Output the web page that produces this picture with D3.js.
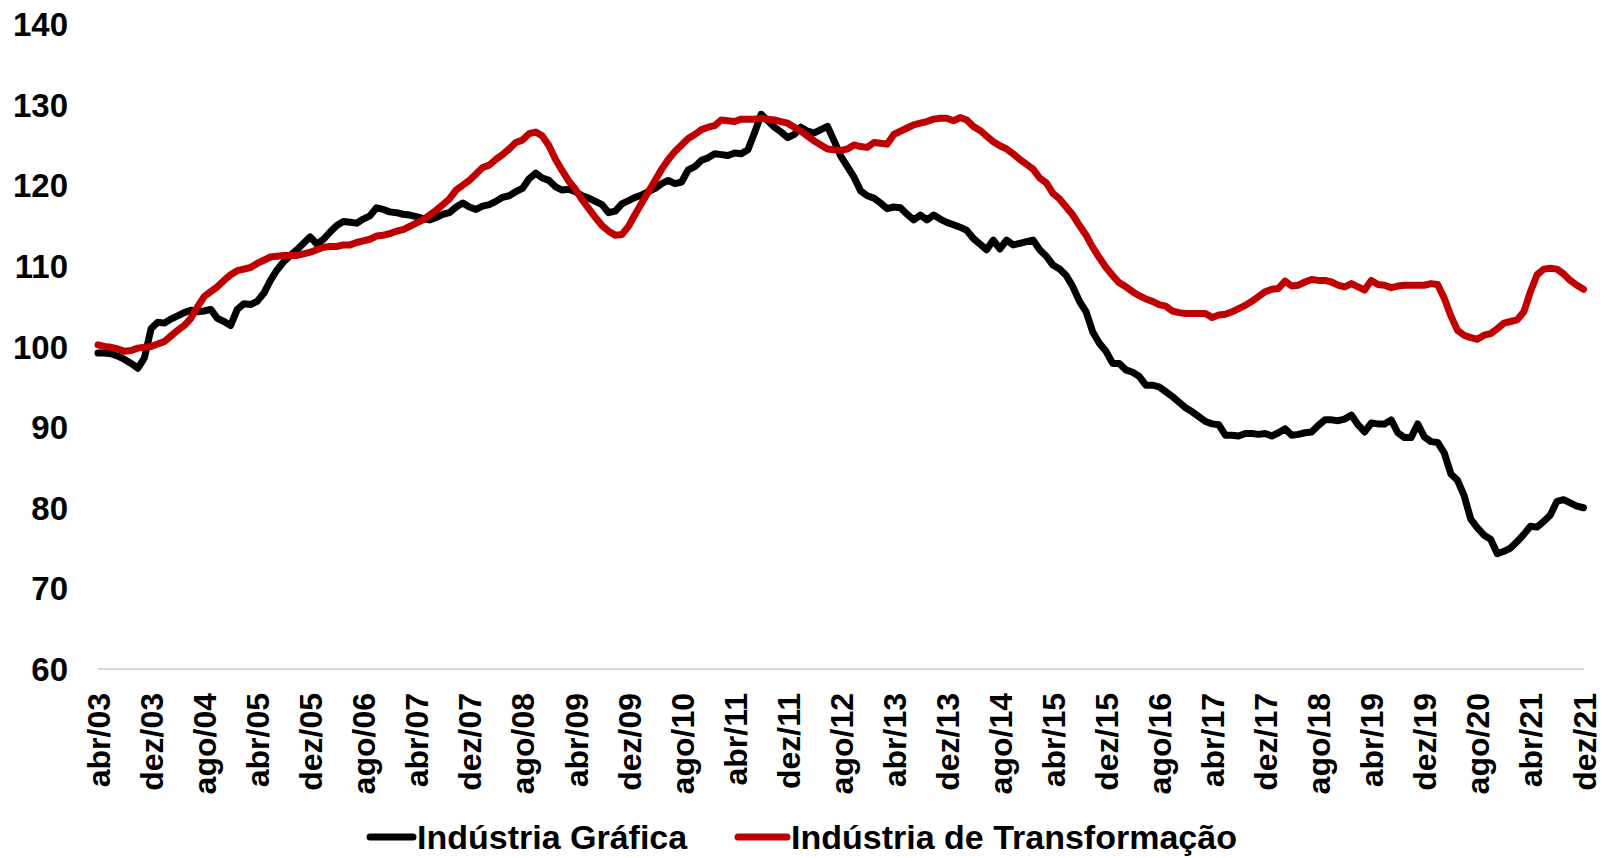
<!DOCTYPE html>
<html>
<head>
<meta charset="utf-8">
<script src="https://cdn.jsdelivr.net/npm/d3@7/dist/d3.min.js"></script>
<style>
  html, body { margin: 0; padding: 0; background: #fff; }
  svg { display: block; font-family: "Liberation Sans", Arial, sans-serif; }
</style>
</head>
<body>
<svg id="chart" width="1605" height="858"></svg>
<script>
// ---- DATA ----
const monthNames = ["jan","fev","mar","abr","mai","jun","jul","ago","set","out","nov","dez"];
const startYear = 2003, startMonthIdx = 3; // abr/03
const nMonths = 225; // abr/03 .. dez/21

const tickLabels = ["abr/03","dez/03","ago/04","abr/05","dez/05","ago/06","abr/07","dez/07","ago/08",
  "abr/09","dez/09","ago/10","abr/11","dez/11","ago/12","abr/13","dez/13","ago/14","abr/15","dez/15",
  "ago/16","abr/17","dez/17","ago/18","abr/19","dez/19","ago/20","abr/21","dez/21"];

const yTicks = [60, 70, 80, 90, 100, 110, 120, 130, 140];

const seriesNames = ["Indústria Gráfica", "Indústria de Transformação"];

const graficaValues = [
  99.2, 99.2, 99.1, 98.8, 98.4, 97.9, 97.3, 98.6, 102.2, 103.0, 102.9, 103.4,
  103.8, 104.2, 104.5, 104.3, 104.4, 104.6, 103.5, 103.1, 102.6, 104.6, 105.3, 105.2,
  105.6, 106.6, 108.2, 109.5, 110.5, 111.3, 112.0, 112.8, 113.6, 112.7, 113.3, 114.2,
  115.0, 115.5, 115.4, 115.3, 115.8, 116.2, 117.2, 117.0, 116.7, 116.6, 116.4, 116.3,
  116.1, 115.9, 115.7, 116.0, 116.4, 116.6, 117.3, 117.8, 117.3, 117.0, 117.4, 117.6,
  118.0, 118.5, 118.7, 119.2, 119.6, 120.8, 121.5, 120.9, 120.6, 119.8, 119.4, 119.5,
  119.2, 118.7, 118.4, 118.0, 117.6, 116.6, 116.8, 117.7, 118.1, 118.5, 118.8, 119.2,
  119.6, 120.2, 120.6, 120.2, 120.4, 121.9, 122.3, 123.1, 123.4, 123.9, 123.8, 123.7,
  124.0, 123.9, 124.4, 126.5, 128.8, 128.0, 127.2, 126.6, 125.9, 126.3, 127.2, 126.7,
  126.5, 126.9, 127.3, 125.5, 123.6, 122.3, 121.0, 119.3, 118.7, 118.4, 117.8, 117.1,
  117.3, 117.2, 116.4, 115.7, 116.3, 115.7, 116.3, 115.8, 115.4, 115.1, 114.8, 114.4,
  113.4, 112.7, 112.0, 113.2, 112.1, 113.2, 112.6, 112.8, 113.0, 113.2, 112.0, 111.2,
  110.1, 109.6, 108.8, 107.4, 105.6, 104.3, 101.8, 100.4, 99.4, 97.9, 97.9, 97.1,
  96.8, 96.3, 95.2, 95.2, 95.0, 94.4, 93.8, 93.1, 92.4, 91.9, 91.3, 90.7,
  90.4, 90.3, 89.0, 89.0, 88.9, 89.2, 89.2, 89.1, 89.2, 88.9, 89.3, 89.8,
  89.0, 89.1, 89.3, 89.4, 90.2, 90.9, 90.9, 90.8, 91.0, 91.5, 90.3, 89.4,
  90.5, 90.4, 90.4, 90.9, 89.3, 88.7, 88.7, 90.4, 88.8, 88.2, 88.1, 86.8,
  84.2, 83.4, 81.5, 78.6, 77.5, 76.6, 76.1, 74.3, 74.6, 75.0, 75.8, 76.7,
  77.7, 77.6, 78.3, 79.1, 80.8, 81.0, 80.6, 80.2, 80.0
];

const transformacaoValues = [
  100.2, 100.0, 99.9, 99.7, 99.4, 99.5, 99.8, 99.9, 100.0, 100.3, 100.6, 101.3,
  102.0, 102.6, 103.5, 104.9, 106.2, 106.8, 107.4, 108.2, 108.9, 109.4, 109.6, 109.8,
  110.3, 110.7, 111.1, 111.2, 111.3, 111.3, 111.3, 111.5, 111.7, 112.0, 112.3, 112.4,
  112.4, 112.6, 112.6, 112.9, 113.1, 113.3, 113.7, 113.8, 114.0, 114.3, 114.5, 114.9,
  115.3, 115.7, 116.3, 116.9, 117.6, 118.3, 119.4, 120.0, 120.6, 121.4, 122.2, 122.5,
  123.2, 123.8, 124.5, 125.3, 125.6, 126.4, 126.6, 126.1, 124.9, 123.2, 121.8, 120.5,
  119.5, 118.2, 117.1, 116.0, 115.0, 114.3, 113.8, 113.9, 114.9, 116.4, 117.8, 119.2,
  120.6, 122.0, 123.2, 124.2, 125.0, 125.8, 126.3, 126.9, 127.2, 127.4, 128.1, 128.0,
  127.9, 128.2, 128.2, 128.2, 128.3, 128.2, 128.1, 127.9, 127.7, 127.2, 126.7, 126.1,
  125.5, 125.0, 124.5, 124.4, 124.3, 124.5, 125.0, 124.8, 124.7, 125.3, 125.2, 125.1,
  126.3, 126.7, 127.1, 127.5, 127.7, 127.9, 128.2, 128.3, 128.3, 128.0, 128.4, 128.1,
  127.3, 126.8, 126.1, 125.4, 124.9, 124.5, 123.9, 123.2, 122.6, 122.0, 120.9, 120.3,
  119.0, 118.3, 117.3, 116.3, 115.0, 113.8, 112.3, 111.0, 109.8, 108.8, 107.9, 107.4,
  106.8, 106.3, 105.9, 105.6, 105.2, 105.0, 104.4, 104.2, 104.1, 104.1, 104.1, 104.1,
  103.6, 103.9, 104.0, 104.3, 104.7, 105.1, 105.6, 106.2, 106.8, 107.1, 107.2, 108.1,
  107.5, 107.6, 108.0, 108.3, 108.2, 108.2, 108.0, 107.6, 107.4, 107.8, 107.4, 107.0,
  108.2, 107.7, 107.6, 107.3, 107.5, 107.6, 107.6, 107.6, 107.6, 107.8, 107.7, 106.0,
  103.8, 102.0, 101.4, 101.1, 100.9, 101.4, 101.6, 102.2, 102.9, 103.1, 103.3, 104.3,
  106.8, 108.9, 109.6, 109.7, 109.6, 109.0, 108.2, 107.6, 107.1
];

const seriesColors = ["#000000", "#C00000"];

// ---- BUILD ----
const categories = d3.range(nMonths).map(k => {
  const m = (startMonthIdx + k) % 12;
  const y = startYear + Math.floor((startMonthIdx + k) / 12);
  return monthNames[m] + "/" + String(y % 100).padStart(2, "0");
});

const svg = d3.select("#chart");
const x = d3.scalePoint().domain(categories).range([98, 1583.5]).padding(0);
const y = d3.scaleLinear().domain([60, 140]).range([669, 24]);

// baseline gridline at 60
svg.append("line")
  .attr("x1", 98).attr("x2", 1584)
  .attr("y1", y(60)).attr("y2", y(60))
  .attr("stroke", "#d9d9d9").attr("stroke-width", 2);

// Y axis
const yAxis = svg.append("g")
  .attr("transform", "translate(98,0)")
  .call(d3.axisLeft(y).tickValues(yTicks).tickSize(0).tickPadding(30).tickFormat(d3.format("d")));
yAxis.select(".domain").remove();
yAxis.selectAll("text")
  .attr("font-size", 33).attr("font-weight", "bold").attr("fill", "#000")
  .attr("font-family", "'Liberation Sans', Arial, sans-serif")
  .attr("dy", "0.35em");

// X axis
const xAxis = svg.append("g")
  .attr("transform", "translate(0,669)")
  .call(d3.axisBottom(x).tickValues(tickLabels).tickSize(0));
xAxis.select(".domain").remove();
xAxis.selectAll("text")
  .attr("font-size", 32).attr("font-weight", "bold").attr("fill", "#000")
  .attr("font-family", "'Liberation Sans', Arial, sans-serif")
  .attr("text-anchor", "end")
  .attr("transform", "rotate(-90)")
  .attr("x", -24).attr("y", 0).attr("dy", "0.36em");

// Lines
const allSeries = [graficaValues, transformacaoValues];
const line = d3.line()
  .x((d, k) => x(categories[k]))
  .y(d => y(d));

allSeries.forEach((vals, s) => {
  svg.append("path")
    .datum(vals)
    .attr("fill", "none")
    .attr("stroke", seriesColors[s])
    .attr("stroke-width", 7)
    .attr("stroke-linejoin", "round")
    .attr("stroke-linecap", "round")
    .attr("d", line);
});

// Legend
const legendItems = [
  { name: seriesNames[0], color: seriesColors[0], x0: 370, x1: 413, tx: 417 },
  { name: seriesNames[1], color: seriesColors[1], x0: 738, x1: 787, tx: 791 }
];
const ly = 837;
legendItems.forEach(it => {
  svg.append("line")
    .attr("x1", it.x0).attr("x2", it.x1).attr("y1", ly).attr("y2", ly)
    .attr("stroke", it.color).attr("stroke-width", 7).attr("stroke-linecap", "round");
  svg.append("text")
    .attr("x", it.tx).attr("y", ly).attr("dy", "0.35em")
    .attr("font-size", 34).attr("font-weight", "bold").attr("fill", "#000")
    .attr("font-family", "'Liberation Sans', Arial, sans-serif")
    .text(it.name);
});
</script>
</body>
</html>
